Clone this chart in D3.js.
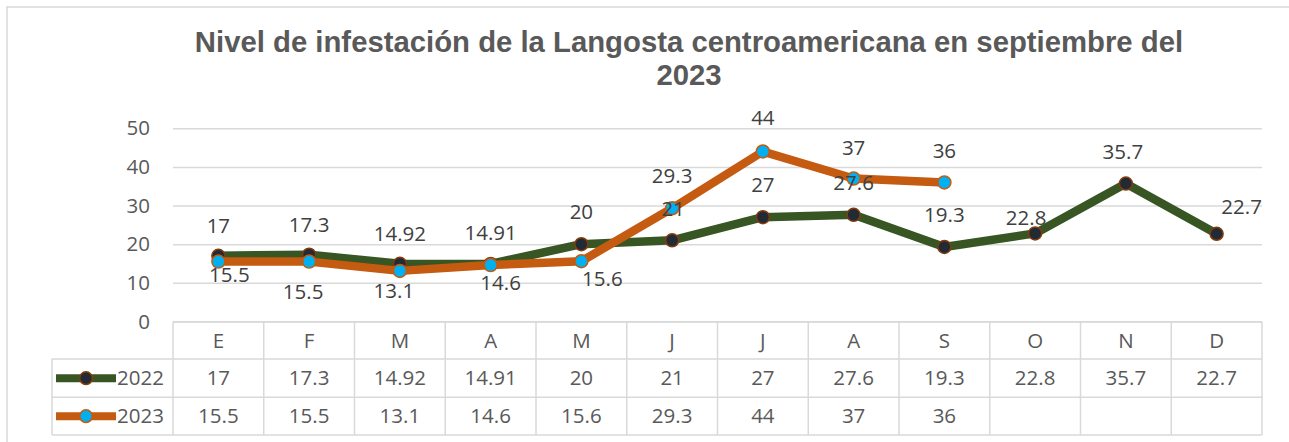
<!DOCTYPE html>
<html>
<head>
<meta charset="utf-8">
<script src="https://cdn.jsdelivr.net/npm/d3@7/dist/d3.min.js"></script>
<style>
  html, body { margin: 0; padding: 0; background: #fff; }
  svg { display: block; }
</style>
</head>
<body>
<svg id="chart" width="1289" height="442"></svg>
<script>
// ---- data ----
const categories = ["E","F","M","A","M","J","J","A","S","O","N","D"];
const seriesNames = ["2022","2023"];
const values2022 = [17,17.3,14.92,14.91,20,21,27,27.6,19.3,22.8,35.7,22.7];
const values2023 = [15.5,15.5,13.1,14.6,15.6,29.3,44,37,36];
const yTicks = [0,10,20,30,40,50];
const titleLines = ["Nivel de infestación de la Langosta centroamericana en septiembre del","2023"];

// ---- label placement (styling, in px relative to point) ----
const labelOffsets2022 = [[0,-23],[0,-23],[0,-23],[0,-24],[0,-25],[1,-24],[0,-25],[0,-25],[0,-25],[-9,-8],[-3,-25],[25,-20]];
const labelOffsets2023 = [[11,20],[-6,37],[-6,27],[10,25],[21,25],[0,-25],[0,-26],[0,-24],[0,-24]];

(function () {
const svg = d3.select("#chart");
const W = 1289, H = 442;
const plotLeft = 173, plotRight = 1262, plotTop = 128.3, zeroY = 321.5;
const tableRows = [321.7, 359, 397.3, 435];
const legendLeft = 52;
const labelFont = "'Open Sans', 'Liberation Sans', sans-serif";
const gridColor = "#d9d9d9";
const textColor = "#595959";
const colors = {
  line: ["#375623", "#C55A11"],
  fill: ["#222A35", "#00B0F0"],
  stroke: ["#843C0C", "#C55A11"]
};

// outer border
svg.append("rect")
  .attr("x", 7).attr("y", 7).attr("width", W + 20).attr("height", H + 20)
  .attr("fill", "#fff").attr("stroke", gridColor).attr("stroke-width", 1.5);

// title
const title = svg.append("text")
  .attr("x", 689).attr("text-anchor", "middle")
  .attr("font-family", "'Liberation Sans', Arial, sans-serif")
  .attr("font-weight", "bold").attr("font-size", 29.3).attr("fill", textColor);
titleLines.forEach((t, i) => {
  title.append("tspan").attr("x", 689).attr("y", 52 + i * 33).text(t);
});

// scales
const x = d3.scaleBand().domain(d3.range(categories.length)).range([plotLeft, plotRight]);
const y = d3.scaleLinear().domain([0, 50]).range([zeroY, plotTop]);
const cx = i => x(i) + x.bandwidth() / 2;

// y axis with gridlines
const yAxis = d3.axisLeft(y).tickValues(yTicks).tickSizeInner(-(plotRight - plotLeft)).tickSizeOuter(0).tickPadding(23);
const gy = svg.append("g").attr("transform", `translate(${plotLeft},0)`).call(yAxis);
gy.select(".domain").remove();
gy.selectAll(".tick line").attr("stroke", gridColor).attr("stroke-width", 1.5);
gy.selectAll(".tick text")
  .attr("font-family", labelFont).attr("font-size", 20.5).attr("fill", textColor);

// table
const tg = svg.append("g");
tg.append("line").attr("x1", plotLeft).attr("x2", plotRight).attr("y1", tableRows[0]).attr("y2", tableRows[0]);
for (let r = 1; r < tableRows.length; r++) {
  tg.append("line").attr("x1", legendLeft).attr("x2", plotRight).attr("y1", tableRows[r]).attr("y2", tableRows[r]);
}
d3.range(categories.length + 1).forEach(i => {
  const xx = i < categories.length ? x(i) : plotRight;
  tg.append("line").attr("x1", xx).attr("x2", xx).attr("y1", tableRows[0]).attr("y2", tableRows[3]);
});
tg.append("line").attr("x1", legendLeft).attr("x2", legendLeft).attr("y1", tableRows[1]).attr("y2", tableRows[3]);
tg.selectAll("line").attr("stroke", gridColor).attr("stroke-width", 1.5);

const rowMid = r => (tableRows[r] + tableRows[r + 1]) / 2;
const cellText = (g, xx, yy, t, anchor) => g.append("text")
  .attr("x", xx).attr("y", yy + 7.3).attr("text-anchor", anchor || "middle")
  .attr("font-family", labelFont).attr("font-size", 20.5).attr("fill", textColor).text(t);

categories.forEach((c, i) => cellText(tg, cx(i), rowMid(0), c));
[values2022, values2023].forEach((vals, s) => {
  vals.forEach((v, i) => cellText(tg, cx(i), rowMid(s + 1), String(v)));
  const my = rowMid(s + 1);
  tg.append("line").attr("x1", 56).attr("x2", 116).attr("y1", my).attr("y2", my)
    .attr("stroke", colors.line[s]).attr("stroke-width", 8);
  tg.append("circle").attr("cx", 86).attr("cy", my).attr("r", 6.3)
    .attr("fill", colors.fill[s]).attr("stroke", colors.stroke[s]).attr("stroke-width", 1.5);
  cellText(tg, 117, my, seriesNames[s], "start");
});

// lines + markers
const lineGen = d3.line().x((d, i) => cx(i)).y(d => y(d));
const series = [values2022, values2023];
series.forEach((vals, s) => {
  svg.append("path").datum(vals)
    .attr("d", lineGen).attr("fill", "none")
    .attr("stroke", colors.line[s]).attr("stroke-width", 8.5)
    .attr("stroke-linejoin", "round").attr("stroke-linecap", "round");
  svg.append("g").selectAll("circle").data(vals).join("circle")
    .attr("cx", (d, i) => cx(i)).attr("cy", d => y(d)).attr("r", 6.5)
    .attr("fill", colors.fill[s]).attr("stroke", colors.stroke[s]).attr("stroke-width", 1.5);
});

// data labels
const offsets = [labelOffsets2022, labelOffsets2023];
series.forEach((vals, s) => {
  svg.append("g").selectAll("text").data(vals).join("text")
    .attr("x", (d, i) => cx(i) + offsets[s][i][0])
    .attr("y", (d, i) => y(d) + offsets[s][i][1])
    .attr("text-anchor", "middle")
    .attr("font-family", labelFont).attr("font-size", 20.5).attr("fill", "#404040")
    .text(d => String(d));
});
})();
</script>
</body>
</html>
